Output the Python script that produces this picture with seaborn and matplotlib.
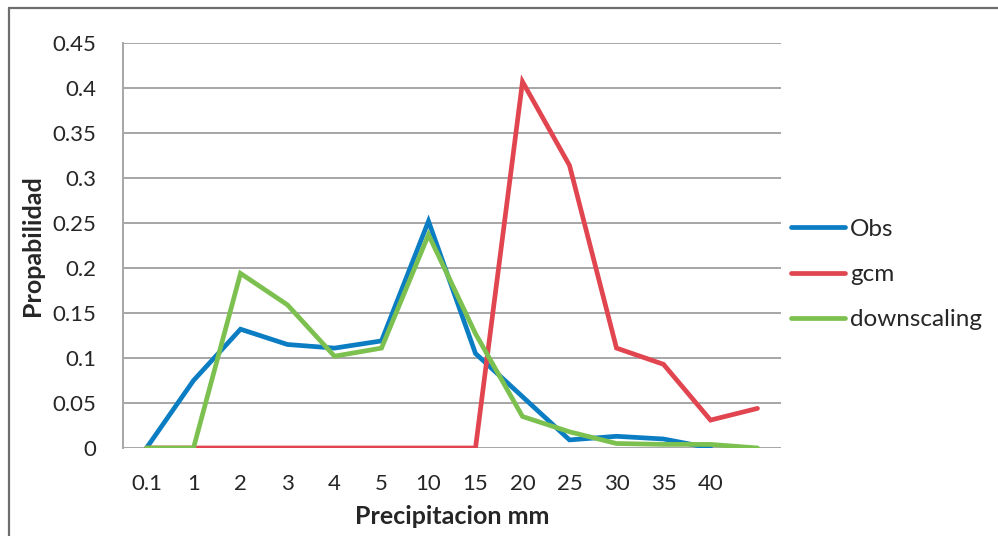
import matplotlib
matplotlib.use("Agg")
import matplotlib.pyplot as plt
from matplotlib.lines import Line2D
import numpy as np
import pandas as pd
import seaborn as sns

# Precipitation classes (mm); the last class has no printed label
categories = ["0.1", "1", "2", "3", "4", "5", "10", "15", "20", "25", "30", "35", "40", ""]

obs = [0.0, 0.075, 0.132, 0.115, 0.111, 0.119, 0.252, 0.105, 0.057, 0.009, 0.013, 0.010, 0.0, np.nan]
gcm = [0.0, 0.0, 0.0, 0.0, 0.0, 0.0, 0.0, 0.0, 0.407, 0.314, 0.111, 0.093, 0.031, 0.044]
downscaling = [0.0, 0.0, 0.194, 0.159, 0.102, 0.111, 0.237, 0.127, 0.035, 0.018, 0.005, 0.004, 0.004, 0.0]

series_names = ["Obs", "gcm", "downscaling"]
colors = ["#0B7DC3", "#E1454F", "#7CC04F"]

pos = np.arange(len(categories))
df = pd.concat([
    pd.DataFrame({"pos": pos, "valor": vals, "serie": name})
    for name, vals in zip(series_names, [obs, gcm, downscaling])
], ignore_index=True)

sns.set_theme(style="white")
plt.rcParams["font.family"] = ["Lato", "DejaVu Sans"]

fig = plt.figure(figsize=(9.98, 5.36), dpi=100)
ax = fig.add_axes([123 / 998, 1 - 448 / 536, (781 - 123) / 998, (448 - 43) / 536])

sns.lineplot(data=df, x="pos", y="valor", hue="serie", hue_order=series_names,
             palette=colors, linewidth=3.4, ax=ax, legend=False,
             solid_capstyle="round", solid_joinstyle="miter")

ax.set_xlim(-0.5, len(categories) - 0.5)
ax.set_ylim(0, 0.45)
ax.set_yticks(np.arange(0, 0.451, 0.05))
ax.set_yticklabels(["0", "0.05", "0.1", "0.15", "0.2", "0.25", "0.3", "0.35", "0.4", "0.45"])
ax.set_xticks(pos)
ax.set_xticklabels(categories)
ax.yaxis.grid(True, color="#A6A6A6", linewidth=1.4)
ax.set_axisbelow(True)
for side in ["top", "right", "bottom"]:
    ax.spines[side].set_visible(False)
ax.spines["left"].set_color("#A6A6A6")
ax.spines["left"].set_linewidth(1.4)
ax.tick_params(axis="both", length=0, labelsize=16, colors="#262626")
ax.tick_params(axis="y", pad=19)
ax.tick_params(axis="x", pad=19)

ax.set_xlabel("Precipitacion mm", fontsize=18, fontweight="bold", color="#262626", labelpad=8)
ax.set_ylabel("Propabilidad", fontsize=18, fontweight="bold", color="#262626", labelpad=6)

handles = [Line2D([0], [0], color=c, linewidth=3.4, solid_capstyle="round") for c in colors]
fig.legend(handles, series_names, loc="upper left", bbox_to_anchor=(781 / 998, 1 - 209 / 536),
           frameon=False, fontsize=17.5, handlelength=2.25, handletextpad=0.2,
           labelspacing=1.0, borderaxespad=0, labelcolor="#262626")

# outer frame lines (top and left)
fig.add_artist(Line2D([9 / 998, 1.0], [1 - 7.5 / 536, 1 - 7.5 / 536], color="#6E6E6E",
                      linewidth=1.6, transform=fig.transFigure))
fig.add_artist(Line2D([9 / 998, 9 / 998], [0.0, 1 - 7.5 / 536], color="#6E6E6E",
                      linewidth=1.6, transform=fig.transFigure))

fig.savefig("out.png", dpi=100)
